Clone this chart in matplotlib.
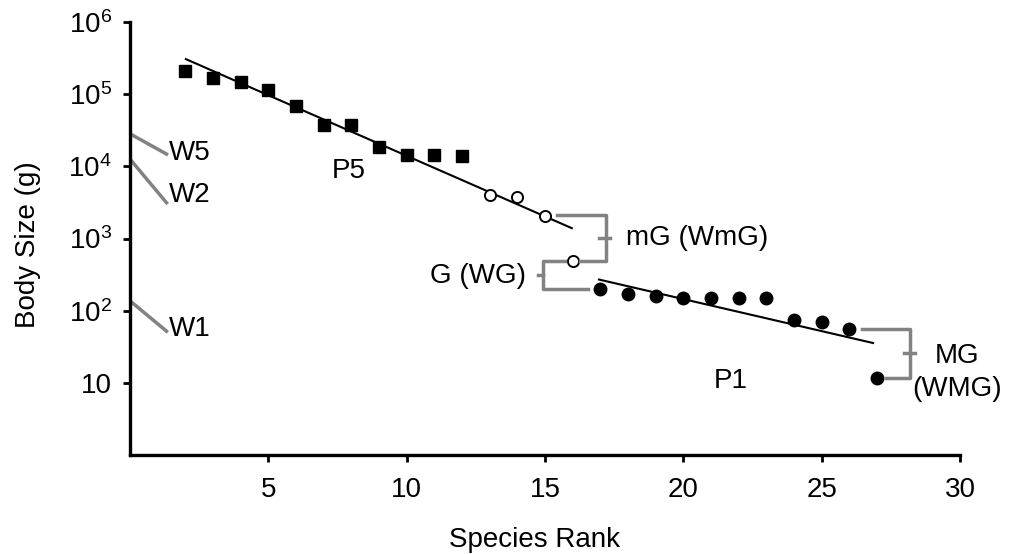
#!/usr/bin/env python3
"""
Body size vs species rank (log scale) with trend lines and gap brackets.
Saves out.png (~1015x554).
"""
import matplotlib
matplotlib.use("Agg")
import matplotlib.pyplot as plt

plt.rcParams['font.family'] = ['Liberation Sans', 'DejaVu Sans']
plt.rcParams['mathtext.fontset'] = 'custom'
plt.rcParams['mathtext.rm'] = 'Liberation Sans'
plt.rcParams['mathtext.it'] = 'Liberation Sans:italic'
plt.rcParams['mathtext.bf'] = 'Liberation Sans:bold'

# --- data ---
sq_rank = [2, 3, 4, 5, 6, 7, 8, 9, 10, 11, 12]
sq_mass = [2.1e5, 1.68e5, 1.46e5, 1.16e5, 6.9e4, 3.7e4, 3.7e4, 1.85e4, 1.45e4, 1.42e4, 1.39e4]

open_rank = [13, 14, 15, 16]
open_mass = [3950, 3750, 2080, 494]

fill_rank = [17, 18, 19, 20, 21, 22, 23, 24, 25, 26, 27]
fill_mass = [200, 171, 162, 150, 150, 150, 150, 75, 69.5, 55, 11.6]

# fitted lines (end points)
fit1_x = [2.02, 15.97]
fit1_y = [3.06e5, 1390]
fit2_x = [16.95, 26.86]
fit2_y = [270, 35.6]

xticks = [5, 10, 15, 20, 25, 30]
yticks = [10, 1e2, 1e3, 1e4, 1e5, 1e6]
ytick_labels = ['10', r'$\mathregular{10^2}$', r'$\mathregular{10^3}$',
                r'$\mathregular{10^4}$', r'$\mathregular{10^5}$', r'$\mathregular{10^6}$']

GRAY = '#828282'
FS = 20
LW_G = 2.5

fig = plt.figure(figsize=(10.15, 5.54), dpi=100)
ax = fig.add_axes([130/1015, 1-455/554, 830/1015, 433/554])

ax.plot(fit1_x, fit1_y, color='black', lw=1.5)
ax.plot(fit2_x, fit2_y, color='black', lw=1.5)
ax.plot(sq_rank, sq_mass, 's', color='black', ms=9, ls='none')
ax.plot(open_rank, open_mass, 'o', mfc='white', mec='black', mew=1.4, ms=8, ls='none')
ax.plot(fill_rank, fill_mass, 'o', color='black', ms=9, ls='none')

ax.set_yscale('log')
ax.set_xlim(0, 30)
ax.set_ylim(1, 1e6)
ax.set_xticks(xticks)
ax.set_xticklabels([str(t) for t in xticks])
ax.set_yticks(yticks)
ax.set_yticklabels(ytick_labels)
ax.minorticks_off()
ax.tick_params(direction='out', length=5, width=2, labelsize=FS)
ax.tick_params(axis='x', pad=11)
ax.tick_params(axis='y', pad=8)

for s in ['top', 'right']:
    ax.spines[s].set_visible(False)
for s in ['left', 'bottom']:
    ax.spines[s].set_linewidth(2.4)

ax.set_xlabel('Species Rank', fontsize=FS)
ax.xaxis.label.set_va('center')
ax.xaxis.set_label_coords(0.487, -0.196)
ax.set_ylabel('Body Size (g)', fontsize=FS)
ax.yaxis.label.set_va('center')
ax.yaxis.set_label_coords(-0.123, 0.485)

# W markers on the y axis
ax.plot([0.07, 1.32], [2.73e4, 1.48e4], color=GRAY, lw=LW_G, clip_on=False)
ax.plot([0.07, 1.32], [1.17e4, 3.13e3], color=GRAY, lw=LW_G, clip_on=False)
ax.plot([0.07, 1.32], [130, 52], color=GRAY, lw=LW_G, clip_on=False)
ax.text(1.42, 10**4.18, 'W5', fontsize=FS, va='center', ha='left')
ax.text(1.42, 10**3.6, 'W2', fontsize=FS, va='center', ha='left')
ax.text(1.42, 10**1.75, 'W1', fontsize=FS, va='center', ha='left')

ax.text(7.9, 10**3.94, 'P5', fontsize=FS, va='center', ha='center')
ax.text(21.7, 10**1.03, 'P1', fontsize=FS, va='center', ha='center')

# brackets
# mG
ax.plot([15.42, 17.19, 17.19, 16.26], [2130, 2130, 495, 495], color=GRAY, lw=LW_G)
ax.plot([16.95, 17.35], [1010, 1010], color=GRAY, lw=LW_G)
ax.text(17.93, 10**3.01, 'mG (WmG)', fontsize=FS, va='center', ha='left')
# G
ax.plot([15.72, 14.94, 14.94, 16.56], [495, 495, 200, 200], color=GRAY, lw=LW_G)
ax.plot([14.75, 14.94], [313, 313], color=GRAY, lw=LW_G)
ax.text(14.33, 10**2.486, 'G (WG)', fontsize=FS, va='center', ha='right')
# MG
ax.plot([26.47, 28.21, 28.21, 27.31], [56, 56, 11.5, 11.5], color=GRAY, lw=LW_G)
ax.plot([27.97, 28.37], [25.5, 25.5], color=GRAY, lw=LW_G)
ax.text(29.88, 10**1.375, 'MG', fontsize=FS, va='center', ha='center')
ax.text(29.9, 10**0.917, '(WMG)', fontsize=FS, va='center', ha='center')

fig.savefig('out.png', dpi=100)
